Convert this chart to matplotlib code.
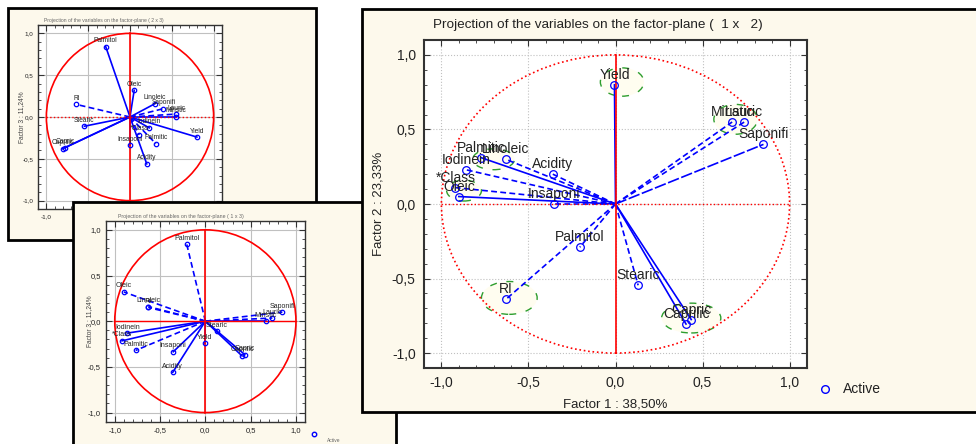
import matplotlib
matplotlib.use("Agg")
import matplotlib.pyplot as plt
from matplotlib.patches import Rectangle, Ellipse
from matplotlib.ticker import MultipleLocator, FixedLocator, FixedFormatter

plt.rcParams['font.family'] = ['Liberation Sans', 'DejaVu Sans']

# loadings of each variable on the first three factors
variables = ['Yield', 'Miristic', 'Lauric', 'Saponifi', 'Palmitic', 'Linoleic',
             'Iodinein', 'Acidity', '*Class', 'Oleic', 'Insaponi', 'Palmitol',
             'Stearic', 'RI', 'Capric', 'Caprilic']
factor1 = [-0.006, 0.67, 0.74, 0.85, -0.77, -0.63, -0.86, -0.36, -0.92, -0.90,
           -0.355, -0.205, 0.13, -0.63, 0.435, 0.405]
factor2 = [0.80, 0.55, 0.55, 0.40, 0.31, 0.30, 0.23, 0.20, 0.11, 0.05,
           0.00, -0.29, -0.545, -0.64, -0.775, -0.805]
factor3 = [-0.24, 0.00, 0.035, 0.10, -0.32, 0.16, -0.13, -0.56, -0.215, 0.32,
           -0.335, 0.84, -0.11, 0.15, -0.365, -0.38]

tick_vals = [-1.0, -0.5, 0.0, 0.5, 1.0]
tick_text = ['-1,0', '-0,5', '0,0', '0,5', '1,0']
# only the first x label of the back panel is left uncovered
tick_text_p1x = ['-1,0', '', '', '', '']

# line style of each arrow (s = solid, d = dashed, l = long dash)
style_main = ['s', 'd', 'd', 'l', 's', 'd', 'd', 'd', 'd', 's', 'd', 'd', 'd', 'd', 's', 's']
style_p1 = ['s', 's', 'd', 'd', 'd', 's', 's', 's', 'd', 's', 's', 's', 's', 'd', 's', 's']
style_p2 = ['s', 's', 'd', 'd', 'd', 'd', 's', 's', 's', 'd', 's', 'd', 's', 'd', 's', 's']

# green highlight rings on the main plot: centre x, centre y, width, height
ring_x = [0.038, 0.69, -0.61, 0.435, -0.70, -0.87]
ring_y = [0.818, 0.568, -0.63, -0.765, 0.30, 0.09]
ring_w = [0.25, 0.25, 0.32, 0.34, 0.24, 0.20]
ring_h = [0.19, 0.20, 0.22, 0.20, 0.14, 0.14]

W, H = 976, 444
CREAM = '#fdf9ec'
BLUE = '#0000ff'
RED = '#ff0000'

fig = plt.figure(figsize=(W / 100, H / 100), dpi=100)
fig.patch.set_facecolor('white')


def frac(l, t, r, b):
    return [l / W, 1 - b / H, (r - l) / W, (b - t) / H]


def panel_box(l, t, r, b, z):
    rect = Rectangle((l / W, 1 - b / H), (r - l) / W, (b - t) / H,
                     transform=fig.transFigure, facecolor=CREAM,
                     edgecolor='black', linewidth=2.0, zorder=z)
    fig.add_artist(rect)


def dash(code):
    if code == 'd':
        return (0, (3.5, 2.0))
    if code == 'l':
        return (0, (7, 1.5))
    return '-'


def setup_axes(ax, fs, spine_w, grid_ls, xlabels=tick_text):
    ax.set_xlim(-1.1, 1.1)
    ax.set_ylim(-1.1, 1.1)
    ax.set_facecolor('white')
    for s in ax.spines.values():
        s.set_linewidth(spine_w)
        s.set_color('#333333')
    ax.xaxis.set_major_locator(FixedLocator(tick_vals))
    ax.xaxis.set_major_formatter(FixedFormatter(xlabels))
    ax.yaxis.set_major_locator(FixedLocator(tick_vals))
    ax.yaxis.set_major_formatter(FixedFormatter(tick_text))
    ax.xaxis.set_minor_locator(MultipleLocator(0.1))
    ax.yaxis.set_minor_locator(MultipleLocator(0.1))
    ax.tick_params(which='both', direction='in', top=True, right=True,
                   color='#333333', labelsize=fs, labelcolor='#222222')
    ax.tick_params(which='major', length=4)
    ax.tick_params(which='minor', length=2.5)
    ax.grid(True, which='major', color='#c0c0c0', linestyle=grid_ls, linewidth=0.8)
    ax.set_axisbelow(True)


def draw_vectors(ax, xs, ys, styles, lw, ms, fs, off, circle_ls, hline_ls):
    circ = Ellipse((0, 0), 2, 2, fill=False, edgecolor=RED, linewidth=1.2,
                   linestyle=circle_ls, zorder=5)
    ax.add_patch(circ)
    ax.plot([-1, 1], [0, 0], color=RED, linewidth=1.0, linestyle=hline_ls, zorder=5)
    ax.plot([0, 0], [-1, 1], color=RED, linewidth=1.2, zorder=5)
    for name, x, y, st in zip(variables, xs, ys, styles):
        ax.plot([0, x], [0, y], color=BLUE, linewidth=lw, linestyle=dash(st), zorder=4)
        ax.plot(x, y, 'o', markerfacecolor='none', markeredgecolor=BLUE,
                markersize=ms, markeredgewidth=0.9, zorder=6)
        ax.annotate(name, (x, y), xytext=(0, off), textcoords='offset pixels',
                    ha='center', va='center', fontsize=fs, color='#222222', zorder=7)


# ---- panel 1 : factor 2 x factor 3 (partly hidden) ----
panel_box(8, 8, 316, 240, 1)
ax1 = fig.add_axes(frac(38, 25, 222, 209))
ax1.set_zorder(2)
setup_axes(ax1, 4.5, 1.0, '-', xlabels=tick_text_p1x)
draw_vectors(ax1, factor2, factor3, style_p1, 1.2, 3.2, 4.8, 6, '-', ':')
ax1.text(0.03, 1.01, 'Projection of the variables on the factor-plane ( 2 x 3)',
         transform=ax1.transAxes, fontsize=3.6, color='#666666', va='bottom')
ax1.text(-0.09, 0.5, 'Factor 3 : 11,24%', transform=ax1.transAxes, rotation=90,
         ha='center', va='center', fontsize=4.8, color='#444444')

# ---- panel 2 : factor 1 x factor 3 ----
panel_box(73, 202, 396, 460, 3)
ax2 = fig.add_axes(frac(105.7, 220.7, 305, 421.7))
ax2.set_zorder(4)
setup_axes(ax2, 5.5, 1.0, '-')
draw_vectors(ax2, factor1, factor3, style_p2, 1.2, 3.2, 5.0, 6, '-', '-')
ax2.text(0.06, 1.01, 'Projection of the variables on the factor-plane ( 1 x 3)',
         transform=ax2.transAxes, fontsize=3.8, color='#666666', va='bottom')
ax2.text(-0.08, 0.5, 'Factor 3 : 11,24%', transform=ax2.transAxes, rotation=90,
         ha='center', va='center', fontsize=4.8, color='#444444')
ax2.plot(1.045, -0.06, 'o', transform=ax2.transAxes, clip_on=False,
         markerfacecolor='none', markeredgecolor=BLUE, markersize=3.2)
ax2.text(1.11, -0.095, 'Active', transform=ax2.transAxes, fontsize=3.5,
         color='#666666', va='center')

# ---- main panel : factor 1 x factor 2 ----
panel_box(362, 9, 985, 412, 5)
ax3 = fig.add_axes(frac(424, 40, 807, 368))
ax3.set_zorder(6)
setup_axes(ax3, 10, 1.5, ':')
ax3.tick_params(which='major', pad=6)
for cx, cy, rw, rh in zip(ring_x, ring_y, ring_w, ring_h):
    ax3.add_patch(Ellipse((cx, cy), rw, rh, facecolor='#fffdf0', edgecolor='#2e9e2e',
                          linewidth=1.0, linestyle=(0, (5, 7)), zorder=2))
draw_vectors(ax3, factor1, factor2, style_main, 1.2, 5.5, 10, 10, ':', ':')
ax3.text(0.024, 1.045, 'Projection of the variables on the factor-plane (  1 x   2)',
         transform=ax3.transAxes, fontsize=9.7, color='#222222', va='center')
ax3.text(0.5, -0.11, 'Factor 1 : 38,50%', transform=ax3.transAxes,
         ha='center', va='center', fontsize=9.5, color='#222222')
ax3.text(-0.12, 0.5, 'Factor 2 : 23,33%', transform=ax3.transAxes, rotation=90,
         ha='center', va='center', fontsize=9.5, color='#222222')
ax3.plot(1.047, -0.064, 'o', transform=ax3.transAxes, clip_on=False,
         markerfacecolor='none', markeredgecolor=BLUE, markersize=5.5)
ax3.text(1.094, -0.064, 'Active', transform=ax3.transAxes, fontsize=10,
         color='#222222', va='center')

fig.savefig('out.png', dpi=100, facecolor='white')
